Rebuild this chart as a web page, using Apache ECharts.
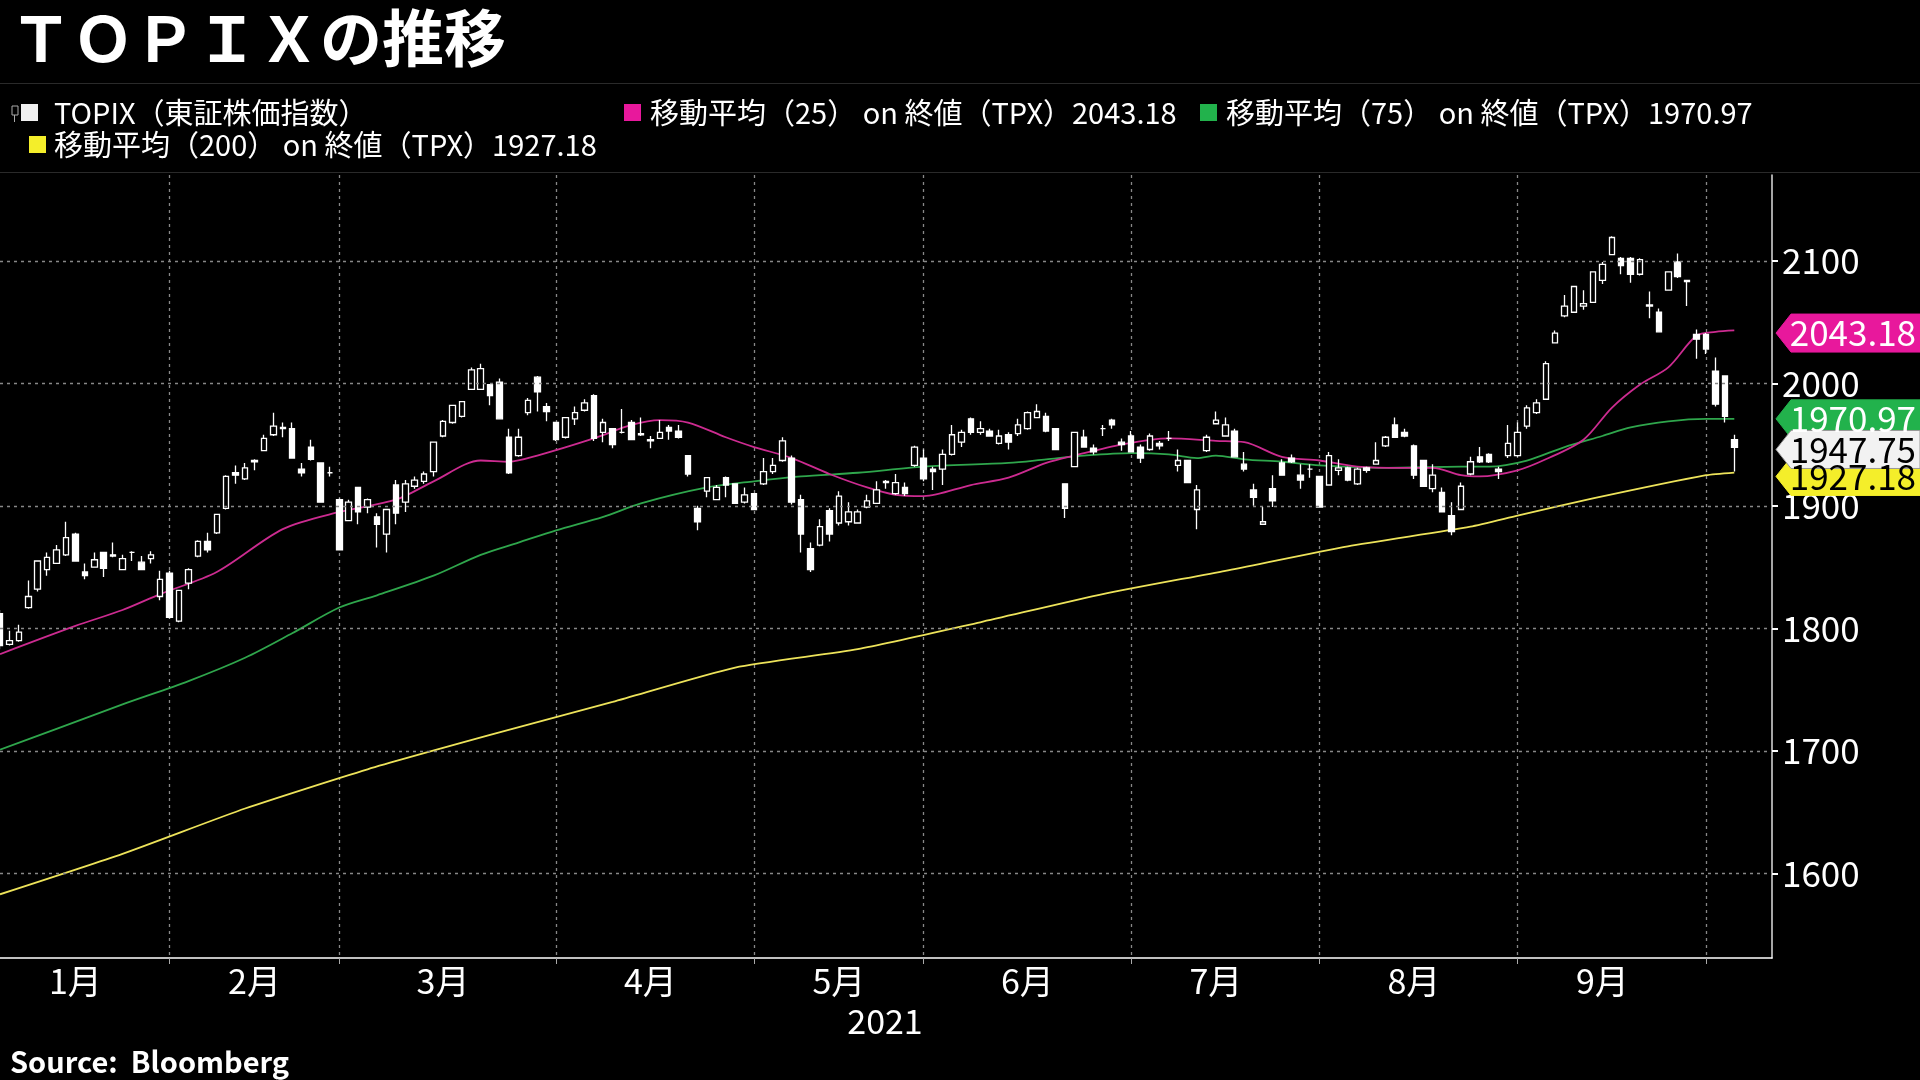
<!DOCTYPE html>
<html><head><meta charset="utf-8">
<script src="https://cdn.jsdelivr.net/npm/echarts@6/dist/echarts.min.js"></script>
<style>html,body{margin:0;padding:0;background:#000;}#c{width:1920px;height:1080px;}</style>
</head><body><div id="c"></div>
<script>
const monthDays = [
  [1,[5,6,7,8,12,13,14,15,18,19,20,21,22,25,26,27,28,29]],
  [2,[1,2,3,4,5,8,9,10,12,15,16,17,18,19,22,24,25,26]],
  [3,[1,2,3,4,5,8,9,10,11,12,15,16,17,18,19,22,23,24,25,26,29,30,31]],
  [4,[1,2,5,6,7,8,9,12,13,14,15,16,19,20,21,22,23,26,27,28,30]],
  [5,[6,7,10,11,12,13,14,17,18,19,20,21,24,25,26,27,28,31]],
  [6,[1,2,3,4,7,8,9,10,11,14,15,16,17,18,21,22,23,24,25,28,29,30]],
  [7,[1,2,5,6,7,8,9,12,13,14,15,16,19,20,21,26,27,28,29,30]],
  [8,[2,3,4,5,6,10,11,12,13,16,17,18,19,20,23,24,25,26,27,30,31]],
  [9,[1,2,3,6,7,8,9,10,13,14,15,16,17,21,22,24,27,28,29,30]],
  [10,[1,4,5,6,7,8,11,12]]
];
const categories = [];
monthDays.forEach(([m, ds]) => ds.forEach(d => categories.push('2021-' + String(m).padStart(2,'0') + '-' + String(d).padStart(2,'0'))));
const monthLabelIdx = [8, 27, 47, 69, 89, 109, 129, 150, 170];
const monthStartIdx = [18, 36, 59, 80, 98, 120, 140, 161, 181];
const yTicks = [1600, 1700, 1800, 1900, 2000, 2100];

const open = [1812,1787,1790,1817,1832,1848,1853,1860,1877,1846,1850,1862,1860,1848,1862,1854,1857,1826,1845,1806,1837,1859,1871,1878,1898,1927,1922,1937,1945,1958,1964,1963,1930,1948,1935,1927,1905,1888,1915,1899,1891,1877,1917,1903,1916,1920,1928,1957,1968,1973,1995,1995,1999,2001,1956,1941,1976,2005,1981,1968,1956,1971,1978,1990,1960,1963,1960,1968,1959,1954,1955,1964,1961,1941,1898,1912,1905,1923,1918,1903,1910,1918,1928,1937,1939,1905,1865,1868,1896,1886,1887,1886,1899,1902,1919,1910,1915,1933,1939,1930,1930,1942,1952,1971,1960,1961,1951,1958,1959,1963,1972,1973,1963,1918,1932,1956,1947,1963,1970,1952,1957,1948,1946,1951,1955,1933,1937,1897,1945,1967,1957,1961,1934,1913,1885,1914,1935,1939,1925,1930,1924,1917,1929,1931,1918,1931,1934,1949,1966,1960,1949,1937,1914,1911,1892,1897,1926,1940,1942,1930,1941,1941,1965,1976,1987,2033,2055,2058,2063,2066,2084,2105,2102,2102,2089,2064,2058,2076,2099,2084,2040,2040,2010,2006,1954];
const close = [1786,1790,1797,1826,1855,1858,1864,1874,1855,1843,1856,1849,1859,1857,1862,1848,1860,1840,1809,1831,1848,1871,1864,1893,1924,1925,1931,1936,1955,1965,1963,1939,1927,1938,1903,1927,1864,1903,1895,1905,1885,1897,1894,1918,1921,1926,1952,1969,1982,1985,2011,2012,1990,1971,1927,1956,1986,1993,1977,1954,1972,1976,1984,1955,1968,1950,1960,1954,1958,1953,1960,1961,1956,1926,1887,1923,1915,1917,1902,1909,1897,1928,1933,1953,1903,1877,1848,1883,1877,1908,1895,1895,1904,1913,1920,1919,1910,1948,1922,1928,1942,1958,1960,1960,1963,1957,1957,1952,1966,1976,1977,1961,1946,1898,1960,1948,1944,1963,1966,1950,1944,1939,1957,1949,1955,1937,1919,1913,1956,1970,1966,1940,1930,1907,1887,1904,1925,1936,1921,1930,1899,1941,1931,1921,1930,1929,1937,1956,1956,1957,1925,1916,1925,1895,1879,1916,1936,1936,1936,1928,1951,1960,1980,1984,2016,2041,2063,2079,2065,2091,2097,2119,2096,2089,2101,2063,2042,2091,2087,2083,2036,2028,1983,1973,1947.75];
const high = [1815,1798,1803,1839,1855,1862,1868,1887,1878,1853,1862,1862,1870,1860,1863,1859,1863,1847,1847,1831,1849,1872,1878,1893,1925,1933,1935,1938,1958,1976,1968,1968,1935,1954,1935,1932,1906,1905,1915,1906,1894,1897,1921,1921,1924,1928,1952,1970,1982,1985,2013,2016,1999,2004,1963,1963,1988,2006,1984,1968,1972,1981,1987,1991,1971,1963,1979,1970,1972,1957,1970,1966,1966,1941,1900,1923,1917,1924,1918,1915,1910,1939,1939,1956,1941,1909,1870,1889,1898,1912,1903,1897,1909,1920,1921,1926,1919,1949,1946,1932,1946,1966,1962,1972,1969,1963,1962,1960,1971,1977,1983,1976,1963,1918,1960,1962,1950,1966,1971,1955,1961,1950,1959,1953,1961,1946,1937,1917,1958,1977,1972,1963,1944,1918,1899,1925,1938,1942,1934,1934,1924,1944,1938,1932,1931,1932,1952,1957,1972,1963,1950,1937,1934,1915,1903,1919,1940,1948,1943,1932,1966,1968,1982,1987,2018,2043,2072,2079,2076,2091,2099,2120,2103,2103,2102,2075,2061,2091,2106,2084,2044,2041,2021,2006,1958];
const low = [1783,1786,1789,1816,1830,1843,1853,1859,1855,1840,1850,1842,1858,1848,1855,1848,1853,1823,1808,1805,1832,1858,1862,1877,1897,1918,1921,1929,1945,1957,1956,1939,1924,1937,1903,1924,1864,1888,1885,1894,1866,1862,1885,1895,1914,1918,1924,1956,1967,1972,1995,1995,1982,1971,1926,1940,1974,1977,1969,1953,1955,1966,1977,1953,1952,1947,1959,1954,1957,1947,1955,1954,1955,1924,1880,1907,1905,1907,1902,1902,1897,1917,1926,1936,1901,1862,1846,1867,1871,1884,1884,1886,1898,1902,1914,1909,1908,1932,1920,1913,1917,1941,1948,1958,1958,1957,1950,1946,1957,1962,1972,1960,1946,1890,1932,1948,1942,1957,1963,1945,1944,1935,1945,1946,1953,1928,1919,1881,1944,1967,1957,1940,1928,1900,1885,1899,1925,1935,1914,1923,1899,1917,1925,1920,1917,1927,1934,1948,1956,1956,1922,1916,1911,1895,1876,1897,1925,1935,1935,1922,1939,1940,1963,1975,1987,2033,2054,2058,2060,2066,2081,2105,2089,2082,2088,2053,2042,2076,2086,2063,2020,2024,1981,1968,1928];

const ma25 = [[0,1779],[8,1802],[13,1815],[17,1828],[23,1846],[30,1881],[36,1895],[42,1905],[46,1920],[51,1937],[54,1936],[57,1941],[63,1955],[67,1966],[70,1970],[73,1968],[77,1956],[80,1948],[84,1939],[88,1926],[92,1915],[95,1909],[98,1908],[103,1917],[107,1923],[111,1935],[114,1941],[119,1950],[124,1955],[129,1953],[132,1952],[136,1940],[140,1937],[144,1932],[149,1931],[152,1931],[155,1925],[157,1924],[161,1929],[164,1938],[168,1954],[171,1980],[174,1999],[177,2013],[180,2039],[182,2042],[184,2043.18]];
const ma75 = [[0,1701],[6,1718],[13,1738],[20,1757],[26,1776],[31,1796],[36,1817],[40,1827],[46,1843],[51,1860],[55,1870],[59,1880],[64,1891],[68,1902],[75,1915],[80,1920],[85,1924],[91,1927],[98,1932],[107,1935],[111,1938],[115,1941],[120,1943],[124,1942],[127,1939],[129,1941],[132,1938],[136,1936],[140,1933],[147,1931],[155,1932],[158,1932],[162,1937],[166,1948],[170,1957],[173,1964],[177,1969],[181,1971],[184,1970.97]];
const ma200 = [[0,1583],[13,1616],[26,1653],[39,1685],[52,1713],[65,1740],[78,1768],[91,1783],[104,1805],[117,1828],[130,1847],[143,1867],[156,1883],[161,1892],[169,1906],[181,1925],[184,1927.18]];

const FONT = '"Noto Sans CJK JP", "Noto Sans", sans-serif';
const candleData = open.map((o, i) => [o, close[i], low[i], high[i]]);

const chart = echarts.init(document.getElementById('c'));
const option = {
  backgroundColor: '#000',
  animation: false,
  grid: { left: 0, right: 148, top: 175, bottom: 122 },
  xAxis: {
    type: 'category', data: categories, boundaryGap: false,
    axisLine: { lineStyle: { color: '#fff', width: 1.5 } },
    axisTick: { show: true, length: 6, lineStyle: { color: '#aaa' }, interval: (i) => monthStartIdx.includes(i) },
    axisLabel: { interval: (i) => monthLabelIdx.includes(i), formatter: (v) => parseInt(v.slice(5, 7), 10) + '月',
      color: '#fff', fontSize: 34, fontFamily: FONT, margin: 6 },
    splitLine: { show: true, interval: (i) => monthStartIdx.includes(i), lineStyle: { color: '#888', type: [3, 4], width: 1.3 } }
  },
  yAxis: {
    type: 'value', position: 'right', min: 1531, max: 2170, scale: true,
    axisLine: { show: true, lineStyle: { color: '#ddd', width: 1.5 } },
    axisTick: { show: true, length: 6, inside: false, customValues: yTicks, lineStyle: { color: '#fff', width: 2 } },
    axisLabel: { customValues: yTicks, formatter: (v) => String(v), color: '#fff', fontSize: 35, fontFamily: FONT, margin: 10 },
    splitLine: { show: false }
  },
  series: [
    { type: 'line', name: 'ma200', data: ma200, symbol: 'none', smooth: 0.2, lineStyle: { color: '#ede35a', width: 1.8 }, z: 2 },
    { type: 'line', name: 'ma75', data: ma75, symbol: 'none', smooth: 0.3, lineStyle: { color: '#2fa64c', width: 1.8 }, z: 2 },
    { type: 'line', name: 'ma25', data: ma25, symbol: 'none', smooth: 0.3, lineStyle: { color: '#cc2b90', width: 1.8 }, z: 2 },
    { type: 'candlestick', data: candleData, barWidth: 6, z: 3,
      itemStyle: { color: '#000', color0: '#fff', borderColor: '#fff', borderColor0: '#fff', borderWidth: 1.3 },
      markLine: { silent: true, symbol: 'none', label: { show: false },
        lineStyle: { color: '#888', type: [3, 4], width: 1.3 },
        data: yTicks.map(v => ({ yAxis: v })) } }
  ]
};
chart.setOption(option);

const tags = [
  { v: 1927.18, bg: '#f4ee2a', fg: '#000' },
  { v: 1970.97, bg: '#22b24c', fg: '#fff' },
  { v: 2043.18, bg: '#e8189c', fg: '#fff' },
  { v: 1947.75, bg: '#f2f2f2', fg: '#000' }
];
const tagY = { 2043.18: 2041, 1970.97: 1971, 1947.75: 1946, 1927.18: 1924 };
const gfx = [];
tags.forEach(t => {
  const y = chart.convertToPixel({ yAxisIndex: 0 }, tagY[t.v]);
  const h = 38, x0 = 1776, x1 = 1791;
  gfx.push({ type: 'polygon', shape: { points: [[x0, y], [x1, y - h / 2], [1920, y - h / 2], [1920, y + h / 2], [x1, y + h / 2]] },
    style: { fill: t.bg, stroke: t.bg === '#f2f2f2' ? '#999' : t.bg }, z: 10 });
  gfx.push({ type: 'text', x: 1916, y: y, style: { text: t.v.toFixed(2), fill: t.fg, font: '35px ' + FONT, align: 'right', verticalAlign: 'middle' }, z: 11 });
});
const legendFont = '29px ' + FONT;
gfx.push(
  { type: 'text', x: 10, y: 38, style: { text: 'ＴＯＰＩＸの推移', fill: '#fff', font: 'bold 62px ' + FONT, verticalAlign: 'middle' } },
  { type: 'rect', shape: { x: 0, y: 83, width: 1920, height: 1 }, style: { fill: '#2a2a2a' } },
  { type: 'rect', shape: { x: 0, y: 172, width: 1920, height: 1 }, style: { fill: '#2a2a2a' } },
  { type: 'rect', shape: { x: 12, y: 106, width: 6, height: 9 }, style: { fill: 'none', stroke: '#aaa', lineWidth: 1 } },
  { type: 'rect', shape: { x: 14, y: 115, width: 1, height: 7 }, style: { fill: '#aaa' } },
  { type: 'rect', shape: { x: 21, y: 104, width: 17, height: 17 }, style: { fill: '#f0f0f0' } },
  { type: 'text', x: 54, y: 113, style: { text: 'TOPIX（東証株価指数）', fill: '#fff', font: legendFont, verticalAlign: 'middle' } },
  { type: 'rect', shape: { x: 624, y: 104, width: 17, height: 17 }, style: { fill: '#e8189c' } },
  { type: 'text', x: 650, y: 113, style: { text: '移動平均（25） on 終値（TPX）2043.18', fill: '#fff', font: legendFont, verticalAlign: 'middle' } },
  { type: 'rect', shape: { x: 1200, y: 104, width: 17, height: 17 }, style: { fill: '#22b24c' } },
  { type: 'text', x: 1226, y: 113, style: { text: '移動平均（75） on 終値（TPX）1970.97', fill: '#fff', font: legendFont, verticalAlign: 'middle' } },
  { type: 'rect', shape: { x: 29, y: 136, width: 17, height: 17 }, style: { fill: '#f4ee2a' } },
  { type: 'text', x: 54, y: 145, style: { text: '移動平均（200） on 終値（TPX）1927.18', fill: '#fff', font: legendFont, verticalAlign: 'middle' } },
  { type: 'text', x: 885, y: 1021, style: { text: '2021', fill: '#fff', font: '34px ' + FONT, align: 'center', verticalAlign: 'middle' } },
  { type: 'text', x: 10, y: 1062, style: { text: 'Source:  Bloomberg', fill: '#fff', font: 'bold 29px ' + FONT, verticalAlign: 'middle' } }
);
chart.setOption({ graphic: gfx });
</script></body></html>
